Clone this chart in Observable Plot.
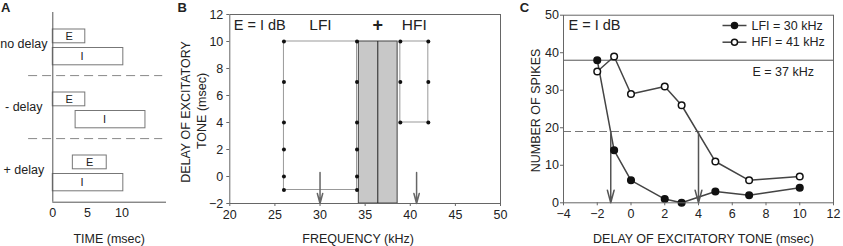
<!DOCTYPE html>
<html><head><meta charset="utf-8">
<script src="https://cdn.jsdelivr.net/npm/d3@7"></script>
<script src="https://cdn.jsdelivr.net/npm/@observablehq/plot@0.6"></script>
<style>
body{margin:0;background:#fff;}
#wrap{position:relative;width:843px;height:246px;overflow:hidden;background:#fff;}
#wrap > div{position:absolute;top:0;}
</style></head><body>
<div id="wrap"><div id="pa" style="left:0;width:172px"></div><div id="pb" style="left:172px;width:343px"></div><div id="pc" style="left:515px;width:328px"></div></div>
<script>
// ---------- Panel A: stimulus paradigm ----------
const conditions = ["no delay", "- delay", "+ delay"];
const eStart = [0, 0, 2.9];
const eEnd = [4.7, 4.7, 7.8];
const iStart = [0, 3.3, 0];
const iEnd = [10.2, 13.4, 10.2];
const timeTicks = [0, 5, 10];
const timeDomain = [0, 16.3];
const separatorSpan = [-3.5, 15.9];

// ---------- Panel B: frequency / delay map ----------
const freqTicks = [20, 25, 30, 35, 40, 45, 50];
const delayTicksB = [-2, 0, 2, 4, 6, 8, 10, 12];
const lfiEdges = [26, 34.1];
const lfiDelays = [10, 7, 4, 2, 0, -1];
const hfiEdges = [38.9, 42];
const hfiDelays = [10, 7, 4];
const excitBand = [34.3, 38.6];
const excitDelays = [-2, 10];
const excitFreq = 36.4;
const inhibFreqs = [30, 40.7];
const inhibArrowTop = 0.3;

// ---------- Panel C: spikes vs delay ----------
const delays = [-2, -1, 0, 2, 3, 5, 7, 10];
const lfiSpikes = [38, 14, 6, 1, 0, 3, 2, 4];
const hfiSpikes = [35, 39, 29, 31, 26, 11, 6, 7];
const seriesNames = ["LFI = 30 kHz", "HFI = 41 kHz"];
const eAloneSpikes = 38;
const halfSpikes = 19;
const thresholdDelays = [-1.2, 4];
const delayTicksC = [-4, -2, 0, 2, 4, 6, 8, 10, 12];
const spikeTicks = [0, 10, 20, 30, 40, 50];

const FONT = "'Liberation Sans', Arial, Helvetica, sans-serif";
const baseStyle = {fontFamily: FONT, fontSize: "12.5px", color: "#222", background: "white", overflow: "visible"};

// ----- A -----
const rowsA = conditions.map((c, i) => ({c, e0: eStart[i], e1: eEnd[i], i0: iStart[i], i1: iEnd[i]}));
const plotA = Plot.plot({
  width: 172, height: 246,
  marginLeft: 52.3, marginRight: 7, marginTop: 12, marginBottom: 44.3,
  style: baseStyle,
  x: {domain: timeDomain},
  y: {domain: conditions, padding: 0, axis: null},
  marks: [
    Plot.ruleY(rowsA.slice(0, 2), {y: "c", dy: 31.6, x1: separatorSpan[0], x2: separatorSpan[1], stroke: "#888", strokeDasharray: "9,5"}),
    Plot.barX(rowsA, {y: "c", x1: "e0", x2: "e1", insetTop: 17, insetBottom: 32.2, fill: "white", stroke: "#777"}),
    Plot.barX(rowsA, {y: "c", x1: "i0", x2: "i1", insetTop: 35.5, insetBottom: 10.2, fill: "white", stroke: "#777"}),
    Plot.text(rowsA, {y: "c", x: d => (d.e0 + d.e1) / 2, text: () => "E", dy: -7.6, fontSize: 11, fill: "#222"}),
    Plot.text(rowsA, {y: "c", x: d => (d.i0 + d.i1) / 2, text: () => "I", dy: 12.6, dx: -6, fontSize: 11, fill: "#222"}),
    Plot.text(rowsA, {y: "c", text: "c", frameAnchor: "left", dx: -29, textAnchor: "middle", lineAnchor: "middle"}),
    Plot.ruleX([0], {stroke: "#555"}),
    Plot.frame({anchor: "bottom", stroke: "#555"}),
    Plot.axisX({ticks: timeTicks, tickSize: 0, tickPadding: 6, label: null}),
    Plot.text(["TIME (msec)"], {frameAnchor: "bottom", dy: 36.3, lineAnchor: "middle"}),
    Plot.text(["A"], {frameAnchor: "top-left", dx: -47, dy: -5, textAnchor: "middle", lineAnchor: "middle", fontWeight: "bold", fontSize: 13})
  ]
});
document.getElementById("pa").append(plotA);

// ----- B -----
const lfiPts = lfiEdges.flatMap(f => lfiDelays.map(d => ({f, d})));
const hfiPts = hfiEdges.flatMap(f => hfiDelays.map(d => ({f, d})));
const boxes = [
  {x1: lfiEdges[0], x2: lfiEdges[1], y1: d3.min(lfiDelays), y2: d3.max(lfiDelays)},
  {x1: hfiEdges[0], x2: hfiEdges[1], y1: d3.min(hfiDelays), y2: d3.max(hfiDelays)}
];
const plotB = Plot.plot({
  width: 343, height: 246,
  marginLeft: 57.3, marginRight: 15, marginTop: 14, marginBottom: 43,
  style: baseStyle,
  x: {domain: [20, 50]},
  y: {domain: [-2, 12]},
  marks: [
    Plot.rect([{x1: excitBand[0], x2: excitBand[1], y1: excitDelays[0], y2: excitDelays[1]}], {x1: "x1", x2: "x2", y1: "y1", y2: "y2", fill: "#c8c8c8", stroke: "#444"}),
    Plot.ruleX([excitFreq], {y1: excitDelays[0], y2: excitDelays[1], stroke: "#222"}),
    Plot.rect(boxes, {x1: "x1", x2: "x2", y1: "y1", y2: "y2", fill: "none", stroke: "#999"}),
    Plot.dot(lfiPts, {x: "f", y: "d", r: 2, fill: "#111"}),
    Plot.dot(hfiPts, {x: "f", y: "d", r: 2, fill: "#111"}),
    Plot.arrow(inhibFreqs, {x1: d => d, x2: d => d, y1: inhibArrowTop, y2: -2, stroke: "#666", headLength: 13, headAngle: 30}),
    Plot.frame({stroke: "#666"}),
    Plot.axisY({ticks: delayTicksB, tickSize: 3, tickPadding: 3.5, stroke: "#666", label: null}),
    Plot.axisX({ticks: freqTicks, tickSize: 3, tickPadding: 4, stroke: "#666", label: null}),
    Plot.text(["E = I dB"], {frameAnchor: "top-left", dx: 4, dy: 11, textAnchor: "start", lineAnchor: "middle", fontSize: 14.5}),
    Plot.text([{t: "LFI", x: d3.mean(lfiEdges)}, {t: "HFI", x: d3.mean(hfiEdges)}], {x: "x", text: "t", frameAnchor: "top", dy: 11, lineAnchor: "middle", fontSize: 15.5}),
    Plot.text(["+"], {x: () => excitFreq, frameAnchor: "top", dy: 11, lineAnchor: "middle", fontSize: 18, fontWeight: "bold"}),
    Plot.text(["FREQUENCY (kHz)"], {frameAnchor: "bottom", dy: 35, dx: -7, lineAnchor: "middle"}),
    Plot.text(["DELAY OF EXCITATORY"], {frameAnchor: "left", dx: -44.3, dy: 3, rotate: -90, lineAnchor: "middle", textAnchor: "middle"}),
    Plot.text(["TONE (msec)"], {frameAnchor: "left", dx: -27.6, dy: 2, rotate: -90, lineAnchor: "middle", textAnchor: "middle"}),
    Plot.text(["B"], {frameAnchor: "top-left", dx: -47.5, dy: -6.5, textAnchor: "middle", lineAnchor: "middle", fontWeight: "bold", fontSize: 13})
  ]
});
document.getElementById("pb").append(plotB);

// ----- C -----
const rowsC = delays.map((d, i) => ({d, lfi: lfiSpikes[i], hfi: hfiSpikes[i]}));
const segment = {draw(ctx) { ctx.moveTo(-12, 0); ctx.lineTo(12, 0); }};
const plotC = Plot.plot({
  width: 328, height: 246,
  marginLeft: 48, marginRight: 10, marginTop: 14.7, marginBottom: 43.7,
  style: baseStyle,
  x: {domain: [-4, 12]},
  y: {domain: [0, 50]},
  marks: [
    Plot.ruleY([eAloneSpikes], {stroke: "#555"}),
    Plot.ruleY([halfSpikes], {stroke: "#777", strokeDasharray: "8,4"}),
    Plot.line(rowsC, {x: "d", y: "lfi", stroke: "#444"}),
    Plot.line(rowsC, {x: "d", y: "hfi", stroke: "#444"}),
    Plot.arrow(thresholdDelays, {x1: d => d, x2: d => d, y1: halfSpikes, y2: 0, stroke: "#555", headLength: 13, headAngle: 30}),
    Plot.dot(rowsC, {x: "d", y: "lfi", r: 3.3, fill: "#111", stroke: "#111"}),
    Plot.dot(rowsC, {x: "d", y: "hfi", r: 3.3, fill: "white", stroke: "#111"}),
    Plot.frame({stroke: "#666"}),
    Plot.axisY({ticks: spikeTicks, tickSize: 3, tickPadding: 1.5, stroke: "#666", label: null}),
    Plot.axisX({ticks: delayTicksC, tickSize: 3, tickPadding: 3, stroke: "#666", label: null}),
    // legend
    Plot.dot([0], {frameAnchor: "top-right", dx: -99, dy: 10.3, symbol: segment, stroke: "#444", fill: "none"}),
    Plot.dot([0], {frameAnchor: "top-right", dx: -99, dy: 10.3, r: 3, fill: "#111", stroke: "#111"}),
    Plot.text([seriesNames[0]], {frameAnchor: "top-right", dx: -82, dy: 10.3, textAnchor: "start", lineAnchor: "middle"}),
    Plot.dot([0], {frameAnchor: "top-right", dx: -99, dy: 27, symbol: segment, stroke: "#444", fill: "none"}),
    Plot.dot([0], {frameAnchor: "top-right", dx: -99, dy: 27, r: 3, fill: "white", stroke: "#111"}),
    Plot.text([seriesNames[1]], {frameAnchor: "top-right", dx: -82, dy: 27, textAnchor: "start", lineAnchor: "middle"}),
    Plot.text(["E = 37 kHz"], {frameAnchor: "top-left", dx: 189, dy: 57, textAnchor: "start", lineAnchor: "middle"}),
    Plot.text(["E = I dB"], {frameAnchor: "top-left", dx: 5, dy: 10.3, textAnchor: "start", lineAnchor: "middle", fontSize: 14.5}),
    Plot.text(["DELAY OF EXCITATORY TONE (msec)"], {frameAnchor: "bottom", dy: 35.7, dx: 5, lineAnchor: "middle"}),
    Plot.text(["NUMBER OF SPIKES"], {frameAnchor: "left", dx: -28, dy: 1.5, rotate: -90, lineAnchor: "middle", textAnchor: "middle"}),
    Plot.text(["C"], {frameAnchor: "top-left", dx: -39, dy: -7, textAnchor: "middle", lineAnchor: "middle", fontWeight: "bold", fontSize: 13})
  ]
});
document.getElementById("pc").append(plotC);
</script>
</body></html>
